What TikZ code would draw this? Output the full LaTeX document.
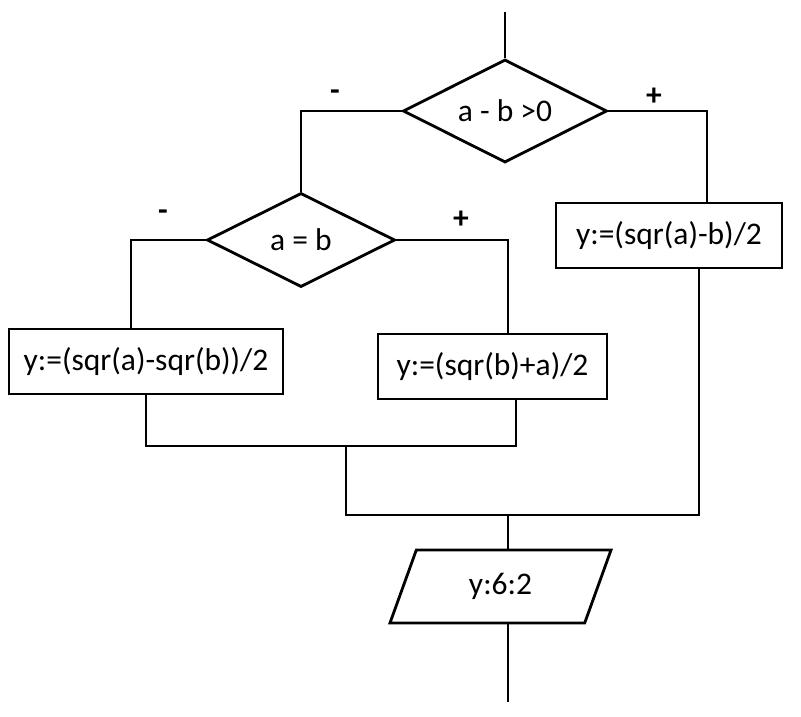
\documentclass[tikz,border=0pt]{standalone}
\usepackage{fontspec}
\setmainfont{Carlito}
\usepackage{tikz}
\usetikzlibrary{shapes.geometric}
\tikzstyle{decision} = [diamond, draw=black, line width=2pt, aspect=2, inner sep=0pt, text centered]
\tikzstyle{process} = [rectangle, draw=black, line width=2pt, minimum height=1.625cm, text centered]
\tikzstyle{io} = [trapezium, draw=black, line width=2pt, trapezium left angle=45, trapezium right angle=135, trapezium stretches body, inner sep=0pt, minimum height=1.825cm, minimum width=5.525cm]
\tikzstyle{sign} = [font=\fontsize{22.4}{26}\selectfont\bfseries]

\begin{document}
\begin{tikzpicture}[x=0.025cm, y=-0.025cm, line width=2pt, font=\fontsize{22.4}{26}\selectfont]
            \useasboundingbox (0,0) rectangle (801,716);

            \node (d1) [decision, minimum width=5.1cm, minimum height=2.575cm] at (505,111) {a - b >0};
            \node (d2) [decision, minimum width=4.7cm, minimum height=2.35cm] at (301,240) {a = b};
            \node (b3) [process, minimum width=5.65cm] at (669,235.5) {y:=(sqr(a)-b)/2};
            \node (b1) [process, minimum width=6.85cm] at (146,361.5) {y:=(sqr(a)-sqr(b))/2};
            \node (b2) [process, minimum width=5.725cm] at (492.5,366.5) {y:=(sqr(b)+a)/2};
            \node (out) [io] at (500.5,586.5) {y:6:2};

            \coordinate (start) at (505,12);
            \coordinate (bend1) at (707,111);
            \coordinate (bend2) at (131,240);
            \coordinate (bend3) at (508,240);
            \coordinate (m1) at (516,446);
            \coordinate (j1) at (346,446);
            \coordinate (m2) at (699,515);
            \coordinate (j2) at (508,515);
            \coordinate (stop) at (508,702);

            \draw (start) -- (d1.north);
            \draw (d1.west) -| (d2.north);
            \draw (d1.east) -- (bend1) -- (bend1 |- b3.north);
            \draw (d2.west) -- (bend2) -- (bend2 |- b1.north);
            \draw (d2.east) -- (bend3) -- (bend3 |- b2.north);
            \draw (b1.south) |- (m1) -- (m1 |- b2.south);
            \draw (j1) |- (m2) -- (m2 |- b3.south);
            \draw (j2) -- (j2 |- out.north);
            \draw (stop |- out.south) -- (stop);

            \node (s1) [sign] at (335,95) {-};
            \node (s2) [sign] at (654,97) {+};
            \node (s3) [sign] at (163,215) {-};
            \node (s4) [sign] at (461,220) {+};
        \end{tikzpicture}
\end{document}
